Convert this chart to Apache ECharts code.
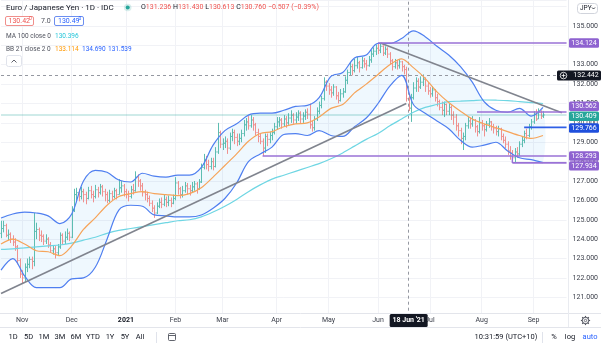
<!DOCTYPE html>
<html><head><meta charset="utf-8">
<script src="https://cdn.jsdelivr.net/npm/echarts@6/dist/echarts.min.js"></script>
<style>html,body{margin:0;padding:0;background:#fff}#c{width:601px;height:347px}</style>
</head><body><div id="c"></div><script>
// ---------- DATA ----------
const START_DATE = '2020-10-20';   // first trading day shown
const FUTURE_DAYS = 10;            // empty slots right of the last bar
const open = [124.3,124.55,124.7,124.2,124.25,124.0,123.85,123.6,122.9,122.2,
122.0,122.55,122.7,122.95,122.85,124.4,124.5,124.2,124.15,123.9,
124.0,123.7,123.4,123.5,123.3,123.6,124.2,123.9,124.1,124.3,
124.1,125.5,126.3,126.4,126.2,126.45,126.3,126.1,126.5,126.3,
126.2,126.55,126.4,126.7,126.45,126.3,126.0,126.35,126.2,126.5,
126.3,126.65,126.75,126.45,126.3,126.2,126.55,126.5,127.2,127.0,
126.75,126.4,126.3,126.1,125.85,125.6,125.35,125.7,125.9,125.8,
126.05,125.9,126.0,125.85,126.1,126.9,126.6,126.3,126.5,126.75,
126.6,126.5,126.7,126.85,126.6,126.95,127.7,128.1,127.85,127.75,
128.0,127.75,128.5,129.5,128.9,128.95,129.05,128.7,129.3,129.5,
129.25,129.05,129.2,129.45,129.9,130.05,129.85,130.15,129.9,129.5,
129.3,129.05,128.7,129.3,129.15,129.35,129.5,129.8,130.05,130.15,
129.95,130.2,130.0,130.25,130.4,130.15,130.3,130.5,130.2,130.35,
130.55,130.45,129.9,129.75,130.2,130.6,130.9,131.25,132.1,131.9,
131.7,131.55,131.85,131.4,131.15,131.5,131.6,132.2,132.6,132.9,
132.7,132.95,133.1,132.85,133.2,133.05,132.95,133.25,133.55,133.7,
133.85,133.75,133.95,133.6,133.8,133.55,133.2,132.9,133.1,132.95,
133.15,132.9,132.75,131.236,130.76,131.3,131.8,132.15,131.85,132.1,
132.25,131.9,131.65,131.5,131.7,131.3,131.1,130.8,130.65,130.95,
130.6,130.8,130.4,130.3,129.85,129.6,129.2,129.3,129.85,130.1,
129.95,130.15,129.8,129.55,130.0,129.85,129.65,129.95,130.05,129.8,
129.7,129.55,129.7,129.3,129.1,128.9,128.55,128.45,128.2,128.5,
128.4,128.9,129.1,129.45,129.35,129.8,130.05,130.45,130.2,130.55,
130.35];
const high = [124.95,124.95,124.8,124.5,124.35,124.2,124.05,123.7,123.0,122.4,
122.75,123.0,123.1,123.1,125.35,124.85,124.6,124.45,124.25,124.25,
124.1,123.85,123.7,123.65,123.75,124.35,124.3,124.4,124.55,124.4,
125.7,126.6,126.65,126.6,126.7,126.6,126.45,126.7,126.75,126.5,
126.8,126.7,126.85,126.8,126.6,126.45,126.55,126.5,126.65,126.6,
127.1,127.0,126.85,126.6,126.5,126.75,126.85,127.5,127.35,127.1,
126.9,126.55,126.45,126.25,126.0,125.75,125.9,126.1,126.15,126.3,
126.2,126.25,126.15,126.3,127.2,127.0,126.7,126.75,126.95,126.9,
126.8,126.95,127.0,126.95,127.1,127.9,128.4,128.3,128.1,128.2,
128.2,128.75,130.0,129.6,129.2,129.3,129.2,129.5,129.7,129.65,
129.45,129.45,129.65,130.15,130.25,130.35,130.4,130.3,130.0,129.7,
129.45,129.2,129.45,129.45,129.55,129.7,130.0,130.3,130.3,130.25,
130.4,130.35,130.5,130.65,130.5,130.55,130.65,130.6,130.55,130.7,
130.75,131.0,130.1,130.35,130.8,131.1,131.4,132.35,132.2,132.05,
131.9,132.0,131.9,131.6,131.75,131.8,132.4,132.75,133.1,133.05,
133.3,133.4,133.2,133.4,133.35,133.25,133.45,133.75,133.9,134.05,
134.124,134.1,134.0,133.95,133.9,133.65,133.3,133.3,133.25,133.3,
133.2,133.0,132.9,131.43,131.5,132.1,132.35,132.3,132.4,132.5,
132.35,132.1,131.85,131.9,131.75,131.5,131.2,131.1,131.1,131.0,
131.0,130.9,130.6,130.45,130.0,129.75,129.5,130.0,130.3,130.25,
130.35,130.2,129.9,130.3,130.15,129.95,130.1,130.25,130.1,129.95,
129.85,129.85,129.75,129.45,129.3,129.05,128.8,128.6,128.7,128.75,
129.05,129.3,129.6,129.7,129.95,130.2,130.6,130.7,130.75,130.65,
130.6];
const low = [124.05,124.35,124.1,123.95,123.8,123.65,123.4,122.7,122.0,121.7,
121.8,122.3,122.5,122.45,122.6,124.0,123.9,123.85,123.7,123.75,
123.55,123.3,123.2,123.0,123.15,123.5,123.7,123.75,123.95,123.9,
124.05,125.4,126.0,125.95,126.05,125.9,125.8,126.05,126.1,125.9,
126.1,126.15,126.3,126.2,125.95,125.85,125.9,126.0,126.1,126.05,
126.3,126.4,126.2,126.1,125.95,126.1,126.3,126.45,126.7,126.5,
126.2,126.0,125.9,125.7,125.4,125.1,125.3,125.6,125.6,125.7,
125.65,125.7,125.65,125.8,126.0,126.3,126.1,126.15,126.4,126.3,
126.25,126.4,126.5,126.35,126.55,126.9,127.6,127.6,127.5,127.6,
127.55,127.7,128.4,128.7,128.6,128.7,128.4,128.6,129.05,128.9,
128.8,128.85,129.0,129.3,129.6,129.65,129.75,129.6,129.35,129.0,
128.9,128.3,128.45,128.8,128.95,129.1,129.4,129.65,129.8,129.7,
129.8,129.75,129.9,130.0,129.95,129.95,130.1,129.95,130.0,130.15,
130.2,129.7,129.55,129.6,130.1,130.45,130.75,131.15,131.65,131.45,
131.3,131.4,131.2,131.0,131.1,131.3,131.55,132.0,132.45,132.45,
132.6,132.8,132.6,132.8,132.85,132.7,132.9,133.1,133.4,133.5,
133.55,133.6,133.45,133.5,133.35,133.0,132.7,132.8,132.75,132.8,
132.65,132.5,131.1,130.613,130.05,131.2,131.6,131.6,131.75,131.9,
131.6,131.45,131.3,131.35,131.1,130.85,130.65,130.4,130.3,130.4,
130.4,130.15,129.9,129.6,129.3,128.9,128.6,129.1,129.7,129.7,
129.8,129.5,129.3,129.45,129.6,129.3,129.55,129.75,129.6,129.45,
129.35,129.3,129.1,128.95,128.7,128.35,128.1,127.934,127.95,128.2,
128.3,128.75,128.95,129.15,129.25,129.65,129.95,130.1,130.2,130.2,
130.25];
const close = [124.55,124.7,124.2,124.25,124.0,123.85,123.6,122.9,122.2,122.0,
122.55,122.7,122.95,122.85,124.4,124.5,124.2,124.15,123.9,124.0,
123.7,123.4,123.5,123.3,123.6,124.2,123.9,124.1,124.3,124.1,
125.5,126.3,126.4,126.2,126.45,126.3,126.1,126.5,126.3,126.2,
126.55,126.4,126.7,126.45,126.3,126.0,126.35,126.2,126.5,126.3,
126.65,126.75,126.45,126.3,126.2,126.55,126.5,127.2,127.0,126.75,
126.4,126.3,126.1,125.85,125.6,125.35,125.7,125.9,125.8,126.05,
125.9,126.0,125.85,126.1,126.9,126.6,126.3,126.5,126.75,126.6,
126.5,126.7,126.85,126.6,126.95,127.7,128.1,127.85,127.75,128.0,
127.75,128.5,129.5,128.9,128.95,129.05,128.7,129.3,129.5,129.25,
129.05,129.2,129.45,129.9,130.05,129.85,130.15,129.9,129.5,129.3,
129.05,128.7,129.3,129.15,129.35,129.5,129.8,130.05,130.15,129.95,
130.2,130.0,130.25,130.4,130.15,130.3,130.5,130.2,130.35,130.55,
130.45,129.9,129.75,130.2,130.6,130.9,131.25,132.1,131.9,131.7,
131.55,131.85,131.4,131.15,131.5,131.6,132.2,132.6,132.9,132.7,
132.95,133.1,132.85,133.2,133.05,132.95,133.25,133.55,133.7,133.85,
133.75,133.95,133.6,133.8,133.55,133.2,132.9,133.1,132.95,133.15,
132.9,132.75,131.25,130.76,131.3,131.8,132.15,131.85,132.1,132.25,
131.9,131.65,131.5,131.7,131.3,131.1,130.8,130.65,130.95,130.6,
130.8,130.4,130.3,129.85,129.6,129.2,129.3,129.85,130.1,129.95,
130.15,129.8,129.55,130.0,129.85,129.65,129.95,130.05,129.8,129.7,
129.55,129.7,129.3,129.1,128.9,128.55,128.45,128.2,128.5,128.4,
128.9,129.1,129.45,129.35,129.8,130.05,130.45,130.2,130.55,130.35,
130.41];
// indicator readings, one every 5 trading days
const bandIdx = [0,5,10,15,20,25,30,35,40,45,50,55,60,65,70,75,80,85,90,95,100,105,110,115,120,125,130,135,140,145,150,155,160,165,170,175,180,185,190,195,200,205,210,215,220,225,230];
const bbUpper = [125.09,125.3,125.4,125.35,125.2,124.8,125.3,127.0,127.55,127.45,127.05,126.95,127.4,127.25,127.2,127.3,127.3,127.7,128.85,129.6,129.95,130.4,130.5,130.5,130.65,130.85,130.9,131.3,132.4,132.6,133.35,133.5,134.1,134.1,134.35,134.75,134.45,133.95,133.5,132.9,132.1,131.1,130.65,130.55,130.75,130.35,130.8];
const bbBasis = [123.75,124.0,123.75,123.4,123.35,123.15,123.65,124.5,125.1,125.75,126.2,126.35,126.45,126.35,126.3,126.25,126.35,126.65,127.2,127.8,128.4,129.05,129.45,129.55,129.8,129.95,130.0,130.3,130.75,130.95,131.55,132.0,132.5,133.0,133.3,132.85,132.3,131.6,131.05,130.6,130.2,129.95,129.75,129.55,129.35,129.2,129.35];
const bbLower = [122.4,123.0,122.1,121.5,121.5,121.5,121.95,122.0,122.55,124.0,125.5,125.75,125.7,125.25,125.2,125.15,125.15,125.25,125.6,126.1,126.9,128.0,128.4,128.75,129.4,129.45,129.35,129.6,129.35,129.3,129.8,130.25,131.0,131.9,132.45,130.95,130.5,130.1,129.7,129.1,128.75,128.85,129.0,128.55,128.2,128.1,127.95];
const ma100 = [123.47,123.5,123.55,123.6,123.65,123.7,123.8,123.95,124.1,124.3,124.45,124.55,124.65,124.75,124.85,124.95,125.0,125.15,125.4,125.7,126.05,126.45,126.8,127.1,127.3,127.5,127.7,127.9,128.15,128.45,128.8,129.15,129.45,129.85,130.2,130.55,130.8,130.95,131.1,131.12,131.15,131.18,131.17,131.15,131.1,131.05,131.0];
// drawings
const riseTrend = [[0,121.2],[172,131.0]];
const fallTrend = [[161,134.124],[238,130.52]];
const levels = [ // [start index, price, kind]
  [160,134.124,'p'],[202,130.562,'p'],[222,129.766,'b'],[111,128.293,'p'],[217,127.934,'p']];
const lastPrice = 130.409;
const crossIdx = 173, crossPrice = 132.442;
const MONTHS = ['Jan','Feb','Mar','Apr','May','Jun','Jul','Aug','Sep','Oct','Nov','Dec'];

// ---------- BUILD ----------
const FONT = 'Roboto, "Liberation Sans", sans-serif';
const cats = [];
(function(){ let d = new Date(START_DATE+'T00:00:00Z'); const total = close.length + FUTURE_DAYS;
  while (cats.length < total) { const wd = d.getUTCDay(); if (wd!==0 && wd!==6) cats.push(d.toISOString().slice(0,10)); d.setUTCDate(d.getUTCDate()+1); } })();
const monthStart = (idx) => idx>0 && cats[idx].slice(0,7) !== cats[idx-1].slice(0,7);
const ohlc = close.map((c,i)=>[i, open[i], high[i], low[i], c]);
const pairs = arr => bandIdx.map((ix,k)=>[ix, arr[k]]);
const UP='#5dbdb1', DOWN='#f0918f', PURPLE='#9a72d6', BLUE='#2f5fe6';

const chart = echarts.init(document.getElementById('c'), null, {renderer:'canvas', width:601, height:347});
const lvlSeries = levels.map(l => ({type:'line', data:[[l[0],l[1]],[cats.length-1,l[1]]], symbol:'none', silent:true, z:8,
  lineStyle:{color:l[2]==='b'?BLUE:PURPLE, width:1.6}}));
chart.setOption({
  animation:false,
  grid:{left:1, right:33, top:0, bottom:30.32},
  xAxis:{type:'category', data:cats, boundaryGap:false,
    axisLine:{show:false}, axisTick:{show:false},
    axisLabel:{show:false, interval:(i)=>monthStart(i)},
    splitLine:{show:true, interval:(i)=>monthStart(i), lineStyle:{color:'#f1f2f6', width:1}}},
  yAxis:{type:'value', position:'right', min:120, max:136.341, interval:1,
    axisLine:{show:false}, axisTick:{show:false},
    axisLabel:{margin:6, fontSize:7, fontFamily:FONT, color:'#3a3e49', showMaxLabel:false,
      formatter:(v)=> (v>=121 && v<=135 && Math.abs(v-Math.round(v))<1e-6) ? v.toFixed(3) : ''},
    splitLine:{lineStyle:{color:'#f1f2f6', width:1}}},
  series:[
    {type:'custom', data:[[0,bbUpper[0]]], silent:true, z:1,
      renderItem:(p,api)=>{ const pts=[];
        for(let k=0;k<bandIdx.length;k++) pts.push(api.coord([bandIdx[k], bbUpper[k]]));
        for(let k=bandIdx.length-1;k>=0;k--) pts.push(api.coord([bandIdx[k], bbLower[k]]));
        return {type:'polygon', shape:{points:pts, smooth:0.35}, style:{fill:'rgba(33,150,243,0.07)'}}; }},
    {type:'line', data:[], silent:true, z:2,
      markLine:{silent:true, symbol:['none','none'], label:{show:false}, animation:false,
        data:[{yAxis:lastPrice, lineStyle:{color:'rgba(38,166,154,0.22)', width:2, type:'solid'}},
              {yAxis:crossPrice, lineStyle:{color:'#9598a1', width:1, type:[3,3]}},
              {xAxis:cats[crossIdx], lineStyle:{color:'#9598a1', width:1, type:[3,3]}}]}},
    {type:'custom', data:ohlc, encode:{x:0, y:[1,2,3,4]}, z:4, silent:true,
      renderItem:(p,api)=>{ const i=api.value(0), o=api.value(1), c=api.value(4);
        const h=api.coord([i,api.value(2)]), l=api.coord([i,api.value(3)]);
        const po=api.coord([i,o]), pc=api.coord([i,c]); const col = c>=o?UP:DOWN;
        const x=Math.round(h[0])+0.5;
        return {type:'group', children:[
          {type:'line', shape:{x1:x,y1:h[1],x2:x,y2:l[1]}, style:{stroke:col,lineWidth:1}},
          {type:'line', shape:{x1:x-1.2,y1:po[1],x2:x,y2:po[1]}, style:{stroke:col,lineWidth:1}},
          {type:'line', shape:{x1:x,y1:pc[1],x2:x+1.2,y2:pc[1]}, style:{stroke:col,lineWidth:1}}]}; }},
    {type:'line', data:pairs(ma100), smooth:0.3, symbol:'none', silent:true, z:5, lineStyle:{color:'#6fd6e3', width:1.2}},
    {type:'line', data:pairs(bbBasis), smooth:0.3, symbol:'none', silent:true, z:5, lineStyle:{color:'#f6a45a', width:1.2}},
    {type:'line', data:pairs(bbUpper), smooth:0.35, symbol:'none', silent:true, z:5, lineStyle:{color:'#4f7ff0', width:1.2}},
    {type:'line', data:pairs(bbLower), smooth:0.35, symbol:'none', silent:true, z:5, lineStyle:{color:'#4f7ff0', width:1.2}},
    {type:'line', data:riseTrend, symbol:'none', silent:true, z:7, lineStyle:{color:'#80848e', width:1.6}},
    {type:'line', data:fallTrend, symbol:'none', silent:true, z:7, lineStyle:{color:'#80848e', width:1.6}},
    {type:'line', data:[[217,127.934],[217,128.293]], symbol:'none', silent:true, z:8, lineStyle:{color:PURPLE, width:1.4}}
  ].concat(lvlSeries)
});

// ---------- OVERLAY TEXT / LABELS ----------
const Y = v => chart.convertToPixel({yAxisIndex:0}, v);
const X = i => chart.convertToPixel({xAxisIndex:0}, cats[i]);
function T(x,y,text,o){ o=o||{}; return {type:'text', x, y, z:100, silent:true, style:{text, fill:o.fill||'#131722',
  fontSize:o.size||7, fontFamily:FONT, fontWeight:o.weight||'normal', align:o.align||'left', verticalAlign:'middle', rich:o.rich}}; }
function R(x,y,w,h,o){ return {type:'rect', z:o.z||99, silent:true, shape:{x,y,width:w,height:h,r:o.r||0}, style:{fill:o.fill||'none', stroke:o.stroke||null, lineWidth:o.lw||1}}; }
function L(x1,y1,x2,y2,col,w){ return {type:'line', z:98, silent:true, shape:{x1,y1,x2,y2}, style:{stroke:col, lineWidth:w||1}}; }
const g = [];
// frame lines / time-axis strip
g.push(R(0,313,601,34,{fill:'#fff', z:97}));
g.push(L(0,313.5,601,313.5,'#e3e5eb'));
g.push(L(0,327.5,601,327.5,'#e3e5eb'));
g.push(L(568.5,0,568.5,327,'#e9ebf0'));
// time labels (first trading day of each month)
for (let i=1;i<cats.length;i++) if (monthStart(i)) {
  const m=+cats[i].slice(5,7); const t = m===1?cats[i].slice(0,4):MONTHS[m-1];
  g.push(T(X(i),320.5,t,{align:'center', fill:m===1?'#131722':'#3a3e49', weight:m===1?'bold':'normal'}));
}
// price label boxes (last value = vertical nudge to avoid overlaps)
const boxes = [[134.124,'#8e62d0',0],[130.562,'#8e62d0',-5.7],[lastPrice,'#26a69a',1.3],[129.766,'#1f4fdc',0.6],[128.293,'#8e62d0',0],[127.934,'#8e62d0',3]];
boxes.forEach(b=>{ const y=Y(b[0])+b[2]; g.push(R(569,y-4.7,30,9.4,{fill:b[1], r:1.5, z:101})); g.push(Object.assign(T(584,y,b[0].toFixed(3),{fill:'#fff', align:'center'}),{z:102})); });
// crosshair price label
{ const y=Y(crossPrice); g.push(R(557,y-5,44,10,{fill:'#131722', r:1.5, z:101}));
  g.push({type:'circle', z:102, silent:true, shape:{cx:563.5,cy:y,r:3.3}, style:{fill:'none', stroke:'#fff', lineWidth:0.8}});
  const a=L(561.5,y,565.5,y,'#fff',0.8), b=L(563.5,y-2,563.5,y+2,'#fff',0.8); a.z=103; b.z=103; g.push(a,b);
  g.push(Object.assign(T(586,y,crossPrice.toFixed(3),{fill:'#fff', align:'center'}),{z:102})); }
// crosshair date label
{ const x=X(crossIdx); g.push(R(x-19,314,38,13,{fill:'#131722', r:1.5, z:101}));
  g.push(Object.assign(T(x,320.5,"18 Jun '21",{fill:'#fff', align:'center', weight:'bold'}),{z:102})); }
// header
g.push(T(6,7.5,'Euro / Japanese Yen · 1D · IDC',{size:8}));
g.push({type:'circle', z:100, silent:true, shape:{cx:127.7,cy:7.5,r:3.8}, style:{fill:'rgba(38,166,154,0.18)'}});
g.push({type:'circle', z:101, silent:true, shape:{cx:127.7,cy:7.5,r:2}, style:{fill:'#26a69a'}});
g.push(T(141,7.5,'{k|O}{v|131.236} {k|H}{v|131.430} {k|L}{v|130.613} {k|C}{v|130.760} {v|−0.507 (−0.39%)}',
  {rich:{k:{fill:'#131722',fontSize:7,fontFamily:FONT}, v:{fill:'#ef5350',fontSize:7,fontFamily:FONT}}}));
g.push(R(5.5,16.5,28,9,{stroke:'#f08f8c', r:1.5, fill:'#fff'}));
g.push(T(8.5,21,'130.42',{fill:'#ef5350'})); g.push(T(29,19,'0',{fill:'#ef5350', size:5}));
g.push(T(41,21,'7.0',{fill:'#50535e'}));
g.push(R(54.5,16.5,29,9,{stroke:'#6d8ff0', r:1.5, fill:'#fff'}));
g.push(T(58,21,'130.49',{fill:'#2962ff'})); g.push(T(78.5,19,'0',{fill:'#2962ff', size:5}));
g.push(T(6,36,'MA 100 close 0',{fill:'#50535e', size:6.5}));
g.push(T(55,36,'130.396',{fill:'#26c6da', size:6.5}));
g.push(T(6,49.3,'BB 21 close 2 0',{fill:'#50535e', size:6.5}));
g.push(T(55,49.3,'133.114',{fill:'#ff9800', size:6.5}));
g.push(T(82,49.3,'134.690',{fill:'#2962ff', size:6.5}));
g.push(T(108,49.3,'131.539',{fill:'#2962ff', size:6.5}));
g.push(R(6.5,55.5,15,11,{stroke:'#e0e3eb', r:2, fill:'#fff'}));
g.push({type:'polyline', z:101, silent:true, shape:{points:[[11.5,62.5],[14,60],[16.5,62.5]]}, style:{stroke:'#50535e', lineWidth:0.9, fill:'none'}});
// JPY box
g.push(R(577.5,3.5,20,10,{stroke:'#d1d4dc', r:3, fill:'#fff'}));
g.push(T(580,8.5,'JPY',{size:6.5}));
g.push({type:'polyline', z:101, silent:true, shape:{points:[[592,7.5],[593.5,9],[595,7.5]]}, style:{stroke:'#131722', lineWidth:0.8, fill:'none'}});
// gear icon
g.push({type:'circle', z:101, silent:true, shape:{cx:585.5,cy:320.5,r:3.2}, style:{fill:'none', stroke:'#50535e', lineWidth:1}});
g.push({type:'circle', z:101, silent:true, shape:{cx:585.5,cy:320.5,r:1.2}, style:{fill:'none', stroke:'#50535e', lineWidth:0.8}});
for (let k=0;k<8;k++){ const a=k*Math.PI/4; const s=L(585.5+3.2*Math.cos(a),320.5+3.2*Math.sin(a),585.5+4.6*Math.cos(a),320.5+4.6*Math.sin(a),'#50535e',1.2); s.z=101; g.push(s); }
// bottom toolbar
[['1D',13],['5D',28.5],['1M',44],['3M',60],['6M',76],['YTD',93],['1Y',110],['5Y',125],['All',140]].forEach(t=>g.push(T(t[1],337.5,t[0],{align:'center', size:7.5})));
g.push(L(156.5,332,156.5,343,'#e0e3eb'));
g.push(R(168.5,333.5,7,7,{stroke:'#50535e', lw:0.9, r:1, z:101})); g.push(L(168.5,335.5,175.5,335.5,'#50535e',0.9));
g.push(T(506,337.5,'10:31:59 (UTC+10)',{align:'center', size:7.5}));
g.push(L(542.5,332,542.5,343,'#e0e3eb'));
g.push(T(554,337.5,'%',{align:'center', size:7.5}));
g.push(T(570,337.5,'log',{align:'center', size:7.5}));
g.push(T(590,337.5,'auto',{align:'center', size:7.5, fill:'#2962ff'}));
chart.setOption({graphic:{elements:g}});
</script></body></html>
